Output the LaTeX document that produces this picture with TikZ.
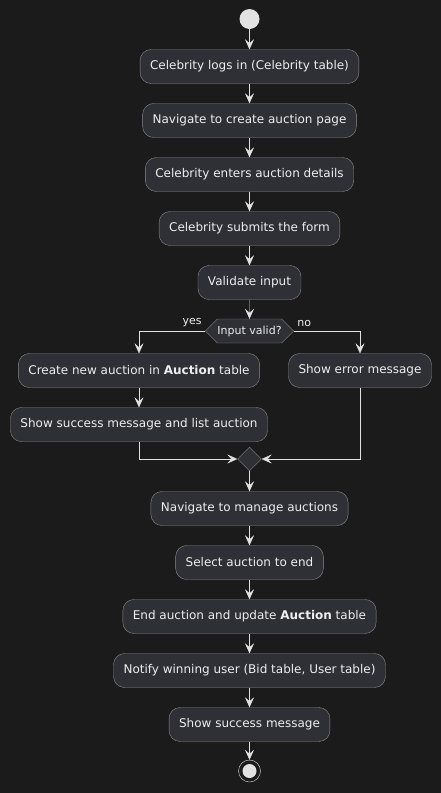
\documentclass[tikz,border=0pt]{standalone}
\usepackage{fontspec}
\setmainfont{DejaVu Sans}
\usetikzlibrary{arrows.meta,positioning,shapes.geometric,shapes.symbols}

\definecolor{bgcol}{HTML}{1B1B1B}
\definecolor{boxfill}{HTML}{2F2F36}
\definecolor{boxline}{HTML}{8C8C8C}
\definecolor{inkcol}{HTML}{EEEEEE}
\definecolor{flowcol}{HTML}{E2E2E2}

\tikzset{
  action/.style={rounded corners=11pt, draw=boxline, fill=boxfill, text=inkcol,
    minimum height=34pt, inner xsep=10pt, font=\fontsize{12}{14}\selectfont},
  decision/.style={signal, signal to=west and east, signal pointer angle=90,
    draw=boxline, fill=boxfill, text=inkcol, minimum height=24pt, minimum width=86pt,
    inner xsep=0pt, inner ysep=0pt, font=\fontsize{11}{13}\selectfont},
  merge/.style={diamond, draw=boxline, fill=boxfill, minimum size=24pt, inner sep=0pt},
  flow/.style={draw=flowcol, -{Stealth[length=10pt, width=9pt, inset=4pt]}},
  branch/.style={text=inkcol, font=\fontsize{11}{13}\selectfont}
}

\begin{document}
\begin{tikzpicture}[x=1pt, y=-1pt]
  \useasboundingbox[fill=bgcol] (0,0) rectangle (441,793);

  % start and main line
  \node (start) [circle, fill=flowcol, minimum size=20pt, inner sep=0pt] at (249.5,19) {};
  \node (login)    [action] at (249.5,66.5)  {Celebrity logs in (Celebrity table)};
  \node (gocreate) [action] at (249.5,120.5) {Navigate to create auction page};
  \node (enter)    [action] at (249.5,174.5) {Celebrity enters auction details};
  \node (submit)   [action] at (249.5,228.5) {Celebrity submits the form};
  \node (validate) [action] at (249.5,282.5) {Validate input};
  \node (valid)    [decision] at (249.5,331) {Input valid?};

  % branches
  \node (create)  [action] at (139,370.5) {Create new auction in \textbf{Auction} table};
  \node (listok)  [action] at (139,424.5) {Show success message and list auction};
  \node (showerr) [action] at (360,370.5) {Show error message};
  \node (join)    [merge] at (249.5,459) {};

  % after merge
  \node (gomanage) [action] at (249.5,508.5) {Navigate to manage auctions};
  \node (select)   [action] at (249.5,562.5) {Select auction to end};
  \node (endauc)   [action] at (249.5,616.5) {End auction and update \textbf{Auction} table};
  \node (notify)   [action] at (249.5,670.5) {Notify winning user (Bid table, User table)};
  \node (done)     [action] at (249.5,724.5) {Show success message};
  \node (stop) [circle, draw=flowcol, fill=bgcol, minimum size=22pt, inner sep=0pt] at (249.5,771) {};
  \node (stopdot) [circle, fill=flowcol, minimum size=14pt, inner sep=0pt] at (stop) {};

  \draw[flow] (start) -- (login);
  \draw[flow] (login) -- (gocreate);
  \draw[flow] (gocreate) -- (enter);
  \draw[flow] (enter) -- (submit);
  \draw[flow] (submit) -- (validate);
  \draw[flow] (validate) -- (valid);
  \draw[flow] (valid.west) -| (create.north);
  \draw[flow] (valid.east) -| (showerr.north);
  \node[branch, anchor=south east] at ([yshift=1pt]valid.west) {yes};
  \node[branch, anchor=south west] at ([yshift=1pt]valid.east) {no};
  \draw[flow] (create) -- (listok);
  \draw[flow] (listok.south) |- (join.west);
  \draw[flow] (showerr.south) |- (join.east);
  \draw[flow] (join) -- (gomanage);
  \draw[flow] (gomanage) -- (select);
  \draw[flow] (select) -- (endauc);
  \draw[flow] (endauc) -- (notify);
  \draw[flow] (notify) -- (done);
  \draw[flow] (done) -- (stop);
\end{tikzpicture}
\end{document}
